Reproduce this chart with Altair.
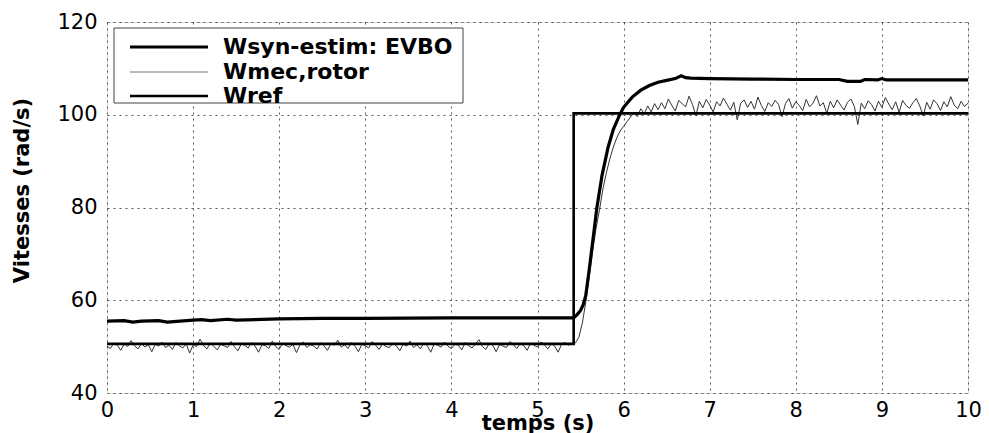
import altair as alt
import pandas as pd

# ---------------- data ----------------
rotor_dt = 0.04
rotor_values = [
    50.1, 49.6, 50.8, 50.3, 49.2, 50.6, 50.0, 51.3, 50.2, 49.5, 50.7, 49.9, 50.4, 48.9, 50.5, 50.1, 51.0,
    49.8, 50.3, 49.4, 50.9, 50.2, 49.7, 50.6, 48.6, 50.4, 50.0, 51.6, 50.3, 49.5, 50.8, 50.1, 49.3, 50.5,
    50.2, 49.8, 51.1, 50.0, 49.1, 50.6, 50.3, 49.7, 50.9, 50.1, 48.8, 50.4, 50.2, 49.6, 51.2, 50.0, 49.4,
    50.7, 50.2, 49.9, 50.5, 48.7, 50.3, 51.0, 49.8, 50.4, 50.1, 49.5, 50.8, 50.2, 49.2, 50.6, 50.3, 51.4,
    49.9, 50.4, 49.6, 50.9, 50.1, 48.9, 50.5, 50.2, 49.7, 51.1, 50.3, 49.4, 50.6, 50.0, 49.8, 50.7, 50.2,
    49.1, 50.5, 50.1, 51.2, 49.8, 50.4, 49.5, 50.8, 50.2, 48.8, 50.6, 50.3, 49.9, 51.0, 50.1, 49.6, 50.5,
    50.3, 49.3, 50.9, 50.2, 49.7, 50.6, 51.5, 50.0, 49.4, 50.7, 50.3, 48.9, 50.5, 50.1, 49.8, 51.1, 50.4,
    49.6, 50.7, 50.2, 49.2, 50.8, 50.3, 49.9, 51.0, 50.4, 49.5, 50.6, 50.1, 48.8, 50.5, 50.9, 50.3, 50.6,
    50.8, 52.0, 55.0, 59.5, 65.0, 70.5, 75.5, 79.5, 84.0, 87.5, 90.5, 93.0, 95.0, 96.5, 97.5, 98.5,
    99.5, 100.4, 99.6, 101.3, 100.2, 101.9, 100.6, 102.4, 101.1,
    102.6, 101.3, 103.4, 102.0, 100.8, 103.1, 102.4, 101.7, 104.0, 102.2, 99.8, 102.9, 101.5, 103.3, 102.1, 100.6, 102.8, 101.9,
    103.6, 102.3, 101.0, 102.7, 98.9, 102.5, 103.2, 101.6, 102.9, 101.2, 103.8, 102.0, 100.7, 102.6, 101.8, 103.1, 102.2, 99.6,
    102.4, 103.5, 101.4, 102.8, 102.0, 100.9, 103.3, 101.7, 102.5, 104.1, 101.9, 102.6, 100.3, 102.9, 101.5, 103.2, 102.1, 101.0,
    102.7, 103.4, 101.8, 97.9, 102.5, 101.3, 103.0, 102.2, 100.8, 102.9, 101.6, 103.7, 102.3, 101.1, 102.8, 100.5, 103.1, 102.0,
    101.4, 102.6, 103.5, 101.9, 99.7, 102.7, 101.2, 103.2, 102.4, 100.9, 102.8, 101.7, 103.9, 102.1, 101.3, 102.9, 101.8, 102.5,
]
rotor_t = [round(i * rotor_dt, 2) for i in range(len(rotor_values))]

evbo_t = [0.0, 0.2, 0.3, 0.4, 0.6, 0.7, 1.0, 1.1, 1.2, 1.4, 1.5, 2.0, 2.5, 3.0, 4.0, 5.0, 5.42,
          5.46, 5.50, 5.53, 5.56, 5.60, 5.65, 5.69, 5.75, 5.82, 5.88, 5.95, 6.0, 6.1, 6.2, 6.3,
          6.4, 6.5, 6.6, 6.67, 6.72, 6.78, 7.0, 7.5, 8.0, 8.5, 8.6, 8.75, 8.8, 8.95, 9.0, 9.05, 10.0]
evbo_v = [55.5, 55.6, 55.3, 55.5, 55.6, 55.3, 55.7, 55.8, 55.6, 55.9, 55.7, 56.0, 56.1, 56.1, 56.2, 56.2, 56.2,
          56.9, 57.8, 59.0, 61.0, 66.5, 74.0, 80.0, 87.0, 93.0, 96.8, 99.8, 101.6, 103.8, 105.3, 106.3,
          107.0, 107.4, 107.8, 108.4, 108.0, 107.9, 107.8, 107.7, 107.6, 107.6, 107.2, 107.2, 107.6, 107.5, 107.8, 107.5, 107.5]

wref_t = [0.0, 5.42, 5.42, 10.0]
wref_v = [50.6, 50.6, 100.3, 100.3]

series_names = ["Wsyn-estim: EVBO", "Wmec,rotor", "Wref"]

x_ticks = [0, 1, 2, 3, 4, 5, 6, 7, 8, 9, 10]
y_ticks = [40, 60, 80, 100, 120]

# ---------------- chart ----------------
FONT = "DejaVu Sans"
W, H = 861, 371

rotor_df = pd.DataFrame({"t": rotor_t, "v": rotor_values, "o": range(len(rotor_t))})
evbo_df = pd.DataFrame({"t": evbo_t, "v": evbo_v, "o": range(len(evbo_t))})
wref_df = pd.DataFrame({"t": wref_t, "v": wref_v, "o": range(len(wref_t))})

xs = alt.Scale(domain=[0, 10], nice=False, zero=False)
ys = alt.Scale(domain=[40, 120], nice=False, zero=False)

x_axis = alt.Axis(values=x_ticks, format="d", title="temps (s)", labelFont=FONT, labelFontSize=21,
                  labelColor="black", labelPadding=6, labelFlush=False, tickSize=0, domain=False,
                  grid=True, gridDash=[2, 4], gridColor="#444", gridWidth=0.9,
                  titleFont=FONT, titleFontSize=21, titleFontWeight="bold", titleColor="black",
                  titleBaseline="middle", titleY=30)
y_axis = alt.Axis(values=y_ticks, format="d", title="Vitesses (rad/s)", labelFont=FONT, labelFontSize=21,
                  labelColor="black", labelPadding=10, labelFlush=False, tickSize=0, domain=False,
                  grid=True, gridDash=[2, 4], gridColor="#444", gridWidth=0.9,
                  titleFont=FONT, titleFontSize=21, titleFontWeight="bold", titleColor="black",
                  titleBaseline="middle", titleX=-85, titleY=168, titleAngle=270)

rotor = alt.Chart(rotor_df).mark_line(color="#333333", strokeWidth=1.0, clip=True).encode(
    x=alt.X("t:Q", scale=xs, axis=x_axis),
    y=alt.Y("v:Q", scale=ys, axis=y_axis),
    order="o:Q",
)
wref = alt.Chart(wref_df).mark_line(color="black", strokeWidth=2.6, clip=True).encode(
    x=alt.X("t:Q", scale=xs), y=alt.Y("v:Q", scale=ys), order="o:Q")
evbo = alt.Chart(evbo_df).mark_line(color="black", strokeWidth=3.2, clip=True).encode(
    x=alt.X("t:Q", scale=xs), y=alt.Y("v:Q", scale=ys), order="o:Q")

one = alt.Data(values=[{}])
legend_box = alt.Chart(one).mark_rect(fill="white", stroke="#444", strokeWidth=1).encode(
    x=alt.value(7), x2=alt.value(356), y=alt.value(6), y2=alt.value(81))

leg_rows = [25, 50, 74]
leg_widths = [3.2, 0.8, 2.6]
leg_colors = ["black", "#555555", "black"]
legend_layers = [legend_box]
for name, yy, sw, col in zip(series_names, leg_rows, leg_widths, leg_colors):
    legend_layers.append(alt.Chart(one).mark_rule(color=col, strokeWidth=sw).encode(
        x=alt.value(23), x2=alt.value(101), y=alt.value(yy)))
    legend_layers.append(alt.Chart(one).mark_text(
        text=name, align="left", baseline="middle", font=FONT, fontSize=22,
        fontWeight="bold", color="black").encode(x=alt.value(116), y=alt.value(yy)))

chart = alt.layer(rotor, wref, evbo, *legend_layers).properties(
    width=W, height=H,
    autosize=alt.AutoSizeParams(type="none"),
    padding={"left": 99, "top": 14, "right": 13, "bottom": 45},
).configure_view(stroke="#222222", strokeWidth=1.2).configure(background="white")

chart.save("out.html", embed_options={"renderer": "svg", "actions": False})
